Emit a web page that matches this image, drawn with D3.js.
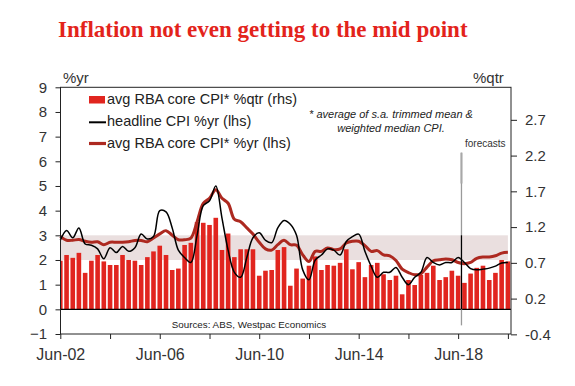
<!DOCTYPE html>
<html>
<head>
<meta charset="utf-8">
<script src="https://cdn.jsdelivr.net/npm/d3@7"></script>
<style>
  body { margin: 0; background: #fff; }
  svg { display: block; }
  text { font-family: "Liberation Sans", Arial, sans-serif; }
</style>
</head>
<body>
<div id="chart"></div>
<script>
// quarterly data, Jun-02 .. Jun-20 (forecasts after Jun-18)
var coreQtr = [0.68,0.76,0.72,0.79,0.51,0.68,0.76,0.67,0.62,0.62,0.76,0.69,0.68,0.62,0.73,0.81,
  0.89,0.76,0.55,0.57,0.90,0.93,1.22,1.21,1.18,1.28,0.83,1.06,0.73,0.84,0.84,0.84,
  0.47,0.54,0.55,0.83,0.87,0.33,0.57,0.43,0.61,0.74,0.55,0.62,0.61,0.65,0.84,0.56,
  0.66,0.45,0.62,0.65,0.49,0.41,0.47,0.21,0.41,0.34,0.48,0.51,0.61,0.41,0.45,0.54,
  0.47,0.37,0.50,0.58,0.61,0.41,0.51,0.69,0.67];
var headlineYr = [2.8,3.2,2.9,3.3,2.65,2.6,2.45,2.05,2.5,2.3,2.55,2.35,2.5,3.05,2.85,2.95,
  4.0,3.95,3.3,2.4,2.1,1.9,3.0,4.2,4.4,5.0,3.7,2.4,1.5,1.3,2.1,2.9,
  3.1,2.8,2.7,3.3,3.6,3.45,3.0,1.6,1.2,2.0,2.2,2.45,2.4,2.2,2.75,2.95,
  3.05,2.35,1.75,1.3,1.5,1.5,1.7,1.3,1.0,1.3,1.5,2.1,1.9,1.8,1.9,1.9,
  2.1,1.9,1.65,1.6,1.63,1.67,1.75,1.88,1.9];
var coreYr = [2.96,2.8,2.8,2.83,2.76,2.72,2.74,2.62,2.72,2.72,2.72,2.74,2.79,2.79,2.74,2.89,
  3.06,3.19,3.0,2.82,2.82,2.89,3.55,4.3,4.5,4.85,4.5,4.3,3.65,3.55,3.3,3.05,
  2.72,2.45,2.4,2.62,2.8,2.62,2.6,2.21,1.94,2.35,2.35,2.49,2.42,2.45,2.69,2.76,
  2.76,2.58,2.35,2.38,2.21,2.17,1.98,1.63,1.49,1.4,1.44,1.71,1.97,2.01,2.04,2.01,
  1.9,1.85,1.9,2.07,2.12,2.12,2.17,2.28,2.31];

var quarters = d3.timeMonth.range(new Date(2002, 5, 1), new Date(2020, 6, 1), 3);
var forecastFrom = new Date(2018, 6, 20);
var targetBand = [2, 3];
var leftTicks = [-1,0,1,2,3,4,5,6,7,8,9];
var rightTicks = [-0.35,0.15,0.65,1.15,1.65,2.15,2.65];
var rightTickLabels = ["-0.4","0.2","0.7","1.2","1.7","2.2","2.7"];
var legendLabels = ["avg RBA core CPI* %qtr (rhs)", "headline CPI %yr (lhs)", "avg RBA core CPI* %yr (lhs)"];

var W = 575, H = 386;
var L = 60.5, R = 511, T = 87.3, B = 334;
var red = "#e1251f", darkRed = "#ad2920", txt = "#333";

var svg = d3.select("#chart").append("svg")
  .attr("width", W).attr("height", H);

var x = d3.scaleTime()
  .domain([quarters[0], quarters[quarters.length - 1]])
  .range([60.3, 507.9]);
var yL = d3.scaleLinear().domain([-1, 9]).range([B, T]);
var yR = d3.scaleLinear().domain([-0.345, 3.105]).range([B, T]);

svg.append("clipPath").attr("id", "plot")
  .append("rect").attr("x", L).attr("y", T).attr("width", R - L).attr("height", B - T);

// title
svg.append("text")
  .attr("x", 58).attr("y", 37)
  .style("font-family", "'Liberation Serif', 'Times New Roman', serif")
  .style("font-weight", "bold").style("font-size", "23px")
  .attr("fill", "#e3231b")
  .text("Inflation not even getting to the mid point");

// target band
svg.append("rect")
  .attr("x", x(quarters[0])).attr("width", x(quarters[quarters.length - 1]) - x(quarters[0]))
  .attr("y", yL(targetBand[1])).attr("height", yL(targetBand[0]) - yL(targetBand[1]))
  .attr("fill", "#eadfdf");

// bars
var bw = 4.6;
svg.append("g").attr("clip-path", "url(#plot)")
  .selectAll("rect").data(coreQtr).enter().append("rect")
  .attr("x", function(d, i) { return x(quarters[i]) - bw / 2; })
  .attr("width", bw)
  .attr("y", function(d) { return yR(d); })
  .attr("height", function(d) { return yR(0) - yR(d); })
  .attr("fill", red);

// zero line
svg.append("line")
  .attr("x1", L).attr("x2", R).attr("y1", yL(0)).attr("y2", yL(0))
  .attr("stroke", "#000").attr("stroke-width", 1.2);

var line = d3.line()
  .x(function(d, i) { return x(quarters[i]); })
  .y(function(d) { return yL(d); })
  .curve(d3.curveCatmullRom);

svg.append("path").datum(coreYr).attr("d", line)
  .attr("fill", "none").attr("stroke", darkRed).attr("stroke-width", 3);
svg.append("path").datum(headlineYr).attr("d", line)
  .attr("fill", "none").attr("stroke", "#000").attr("stroke-width", 1.5);

// forecast marker
var fx = x(forecastFrom);
svg.append("line").attr("x1", fx).attr("x2", fx).attr("y1", yL(6.35)).attr("y2", yL(-0.65))
  .attr("stroke", "#9a9a9a").attr("stroke-width", 1.3);
svg.append("line").attr("x1", fx).attr("x2", fx).attr("y1", yL(6.35)).attr("y2", yL(5.1))
  .attr("stroke", "#a8a8a8").attr("stroke-width", 2);
svg.append("line").attr("x1", fx).attr("x2", fx).attr("y1", yL(3)).attr("y2", yL(0))
  .attr("stroke", "#000").attr("stroke-width", 1.2);
svg.append("text").attr("x", 465).attr("y", 147)
  .style("font-size", "10px").attr("fill", txt).text("forecasts");

// frame
svg.append("rect").attr("x", L).attr("y", T).attr("width", R - L).attr("height", B - T)
  .attr("fill", "none").attr("stroke", "#222").attr("stroke-width", 1);

// axes
var gl = svg.append("g").attr("transform", "translate(" + L + ",0)")
  .call(d3.axisLeft(yL).tickValues(leftTicks).tickSize(5).tickPadding(8.5).tickFormat(d3.format("d")));
var gr = svg.append("g").attr("transform", "translate(" + R + ",0)")
  .call(d3.axisRight(yR).tickValues(rightTicks).tickSize(6).tickPadding(8)
    .tickFormat(function(d, i) { return rightTickLabels[i]; }));
var xTicks = quarters.filter(function(d, i) { return i % 8 === 0; });
var gx = svg.append("g").attr("transform", "translate(0," + B + ")")
  .call(d3.axisBottom(x).tickValues(xTicks).tickSize(5).tickPadding(10)
    .tickFormat(function(d, i) { return i % 2 === 0 ? d3.timeFormat("%b-%y")(d) : ""; }));

[gl, gr, gx].forEach(function(g) {
  g.select(".domain").remove();
  g.selectAll("line").attr("stroke", "#222");
  g.selectAll("text").attr("fill", txt)
    .style("font-family", "'Liberation Sans', Arial, sans-serif").style("font-size", "15px");
});
gx.selectAll("text").style("font-size", "16px");

svg.append("text").attr("x", 63).attr("y", 83).style("font-size", "15px").attr("fill", txt).text("%yr");
svg.append("text").attr("x", 473).attr("y", 83).style("font-size", "15px").attr("fill", txt).text("%qtr");

// legend
var lg = svg.append("g");
lg.append("rect").attr("x", 89).attr("y", 96).attr("width", 16).attr("height", 7.5).attr("fill", red);
lg.append("line").attr("x1", 89).attr("x2", 106).attr("y1", 122.3).attr("y2", 122.3)
  .attr("stroke", "#000").attr("stroke-width", 2);
lg.append("line").attr("x1", 89).attr("x2", 106).attr("y1", 143.5).attr("y2", 143.5)
  .attr("stroke", darkRed).attr("stroke-width", 3.2);
lg.selectAll("text").data(legendLabels).enter().append("text")
  .attr("x", 107).attr("y", function(d, i) { return 104 + i * 22.2; })
  .style("font-size", "14.5px").attr("fill", "#222")
  .text(function(d) { return d; });

// notes
svg.append("text").attr("x", 391).attr("y", 118).attr("text-anchor", "middle")
  .style("font-size", "11px").style("font-style", "italic").attr("fill", "#222")
  .text("* average of s.a. trimmed mean &");
svg.append("text").attr("x", 391).attr("y", 132).attr("text-anchor", "middle")
  .style("font-size", "11px").style("font-style", "italic").attr("fill", "#222")
  .text("weighted median CPI.");
svg.append("text").attr("x", 249).attr("y", 327.5).attr("text-anchor", "middle")
  .style("font-size", "9.8px").attr("fill", "#222")
  .text("Sources: ABS, Westpac Economics");
</script>
</body>
</html>
